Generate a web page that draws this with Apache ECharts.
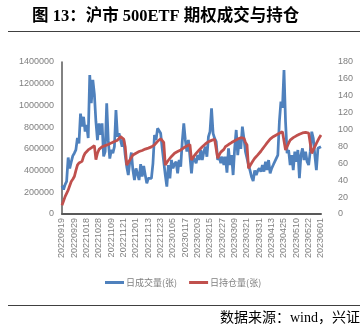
<!DOCTYPE html>
<html>
<head>
<meta charset="utf-8">
<script src="https://cdn.jsdelivr.net/npm/echarts@6/dist/echarts.min.js"></script>
<style>html,body{margin:0;padding:0;background:#fff}#c{width:360px;height:327px}</style>
</head>
<body>
<div id="c"></div>
<script>
const dates = [
'20220919','20220920','20220921','20220922','20220923','20220926','20220927','20220928','20220929','20220930',
'20221010','20221011','20221012','20221013','20221014','20221017','20221018','20221019','20221020','20221021',
'20221024','20221025','20221026','20221027','20221028','20221031',
'20221101','20221102','20221103','20221104','20221107','20221108','20221109','20221110','20221111','20221114',
'20221115','20221116','20221117','20221118','20221121','20221122','20221123','20221124','20221125','20221128',
'20221129','20221130',
'20221201','20221202','20221205','20221206','20221207','20221208','20221209','20221212','20221213','20221214',
'20221215','20221216','20221219','20221220','20221221','20221222','20221223','20221226','20221227','20221228',
'20221229','20221230',
'20230103','20230104','20230105','20230106','20230109','20230110','20230111','20230112','20230113','20230116',
'20230117','20230118','20230119','20230120','20230130','20230131',
'20230201','20230202','20230203','20230206','20230207','20230208','20230209','20230210','20230213','20230214',
'20230215','20230216','20230217','20230220','20230221','20230222','20230223','20230224','20230227','20230228',
'20230301','20230302','20230303','20230306','20230307','20230308','20230309','20230310','20230313','20230314',
'20230315','20230316','20230317','20230320','20230321','20230322','20230323','20230324','20230327','20230328',
'20230329','20230330','20230331',
'20230403','20230404','20230406','20230407','20230410','20230411','20230412','20230413','20230414','20230417',
'20230418','20230419','20230420','20230421','20230424','20230425','20230426','20230427','20230428',
'20230504','20230505','20230508','20230509','20230510','20230511','20230512','20230515','20230516','20230517',
'20230518','20230519','20230522','20230523','20230524','20230525','20230526','20230529','20230530','20230531',
'20230601'
];
// 日成交量(张), in thousands
const volumeK = [
260,225,270,300,520,420,480,535,560,590,
700,650,925,805,895,760,820,700,1280,1020,
1235,1105,850,680,835,730,835,530,575,1020,
680,510,590,560,620,958,712,743,728,620,
690,543,436,359,482,566,405,313,420,370,
313,460,344,442,359,283,329,313,329,467,
728,682,789,804,743,604,620,359,252,451,
329,498,420,460,482,374,498,436,666,835,
682,574,682,528,374,528,500,467,543,498,
589,498,574,620,528,712,758,973,743,697,
666,498,528,467,528,451,528,380,605,451,
543,359,605,774,543,697,600,805,697,574,
513,451,400,340,304,400,359,400,421,390,
451,390,482,405,497,374,421,451,436,513,
543,850,1035,980,1326,850,560,589,451,543,
405,574,482,589,329,543,605,497,574,482,
451,574,758,697,543,405,605,589,620
];
// 日持仓量(张), in thousands
const openIntK = [
80,120,160,190,220,260,300,320,345,400,
450,470,475,485,530,560,575,590,600,610,
615,630,500,560,595,610,620,625,630,636,
640,648,655,660,668,675,680,695,712,706,
690,620,451,475,497,520,543,552,560,568,
575,580,585,592,598,603,607,611,618,628,
636,650,670,688,693,697,660,451,475,495,
513,530,545,559,568,575,583,590,600,610,
620,627,634,640,497,520,540,559,575,590,
605,620,632,645,655,666,672,678,684,688,
670,513,545,570,585,595,620,630,640,651,
658,666,674,681,690,697,703,700,697,660,
636,421,445,470,492,513,528,544,559,578,
598,617,636,655,672,690,703,712,720,728,
736,743,750,757,764,590,620,652,681,693,
703,712,720,728,735,741,747,752,752,748,
745,740,559,590,620,651,678,705,728
];
const leftTicks = {min:0, max:1400000, interval:200000};
const rightTicks = {min:0, max:180, interval:20};
const seriesNames = ['日成交量(张)','日持仓量(张)'];
const titleText = '图 13：沪市 500ETF 期权成交与持仓';
const sourceText = '数据来源：wind，兴证期货研发部';

const volume = volumeK.map(v => v * 1000);
const openInt = openIntK.map(v => v * 1000);

const chart = echarts.init(document.getElementById('c'), null, {renderer:'canvas'});
const labelFont = '"Liberation Sans", Arial, sans-serif';
const cjk = '"Noto Sans CJK SC", sans-serif';
chart.setOption({
  animation:false,
  backgroundColor:'#fff',
  grid:{left:62, right:39, top:62, bottom:113, containLabel:false},
  legend:{
    left:100, top:273, itemWidth:19, itemHeight:3, itemGap:12, icon:'rect',
    textStyle:{fontSize:9, color:'#7f7f7f', fontFamily:cjk, padding:[0,0,0,-3]},
    data:seriesNames
  },
  xAxis:{
    type:'category', data:dates, boundaryGap:false,
    axisLine:{lineStyle:{color:'#595959', width:2}},
    axisTick:{show:false},
    axisLabel:{interval:7, rotate:90, fontSize:9, color:'#7f7f7f', margin:4, fontFamily:labelFont}
  },
  yAxis:[
    {type:'value', min:leftTicks.min, max:leftTicks.max, interval:leftTicks.interval,
     axisLine:{show:true, lineStyle:{color:'#595959', width:1.5}}, axisTick:{show:false},
     splitLine:{show:false},
     axisLabel:{fontSize:9, color:'#7f7f7f', margin:8, fontFamily:labelFont, formatter:v => String(v)}},
    {type:'value', position:'right', min:rightTicks.min, max:rightTicks.max, interval:rightTicks.interval,
     axisLine:{show:false}, axisTick:{show:false}, splitLine:{show:false},
     axisLabel:{fontSize:9, color:'#7f7f7f', margin:17, fontFamily:labelFont}}
  ],
  series:[
    {name:seriesNames[0], type:'line', data:volume, yAxisIndex:0, showSymbol:false,
     lineStyle:{color:'#4F81BD', width:2.75}, itemStyle:{color:'#4F81BD'}},
    {name:seriesNames[1], type:'line', data:openInt, yAxisIndex:0, showSymbol:false,
     lineStyle:{color:'#C0504D', width:2.75}, itemStyle:{color:'#C0504D'}}
  ],
  graphic:[
    {type:'text', left:32, top:8, style:{text:titleText, fill:'#000',
      font:'bold 16.5px "Liberation Serif", "Noto Sans CJK SC", serif'}},
    {type:'line', shape:{x1:8, y1:31.5, x2:360, y2:31.5}, style:{stroke:'#404040', lineWidth:1}},
    {type:'line', shape:{x1:8, y1:305.5, x2:360, y2:305.5}, style:{stroke:'#404040', lineWidth:1}},
    {type:'text', left:220, top:311, style:{text:sourceText, fill:'#000',
      font:'14px "Liberation Serif", "Noto Sans CJK SC", serif'}}
  ]
});
</script>
</body>
</html>
